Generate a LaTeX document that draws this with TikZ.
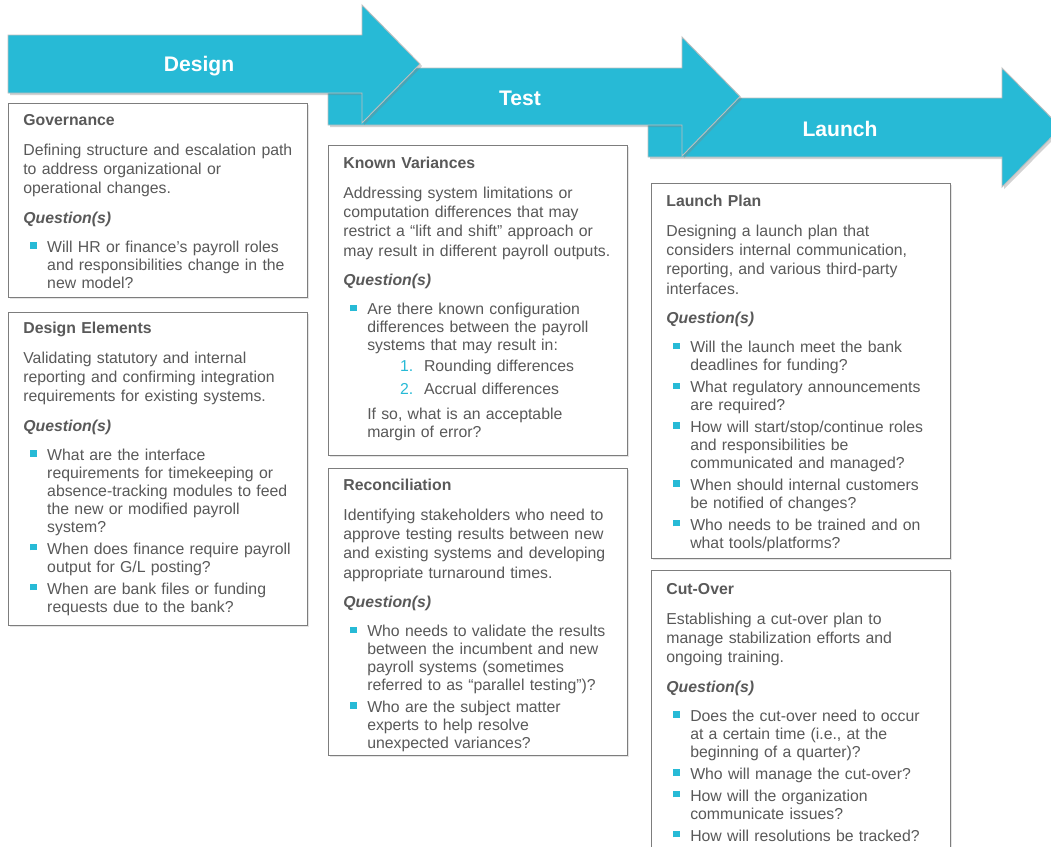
\documentclass[tikz,border=0pt]{standalone}
\usepackage{fontspec}
\setmainfont{Liberation Sans}
\usepackage{tikz}
\usetikzlibrary{shadows,positioning}

\definecolor{kcyan}{RGB}{39,186,214}
\definecolor{kgray}{RGB}{89,89,89}
\definecolor{kframe}{RGB}{125,125,125}

\tikzstyle{phase} = [fill=kcyan, draw=black!25, line width=0.5pt,
   drop shadow={opacity=0.35, shadow xshift=1.2pt, shadow yshift=-1.2pt}]
\tikzstyle{phaselabel} = [text=white, font=\fontsize{12}{14}\selectfont\bfseries]
\tikzstyle{panel} = [rectangle, draw=kframe, line width=0.8pt, fill=white,
   anchor=north west, minimum width=5.98cm, inner sep=0pt,
   drop shadow={opacity=0.2, shadow xshift=1pt, shadow yshift=-1pt}]
\tikzstyle{paneltext} = [anchor=base west, text width=6cm, inner sep=0pt,
   text=kgray, font=\fontsize{9}{11}\selectfont]

% small helpers for the panel contents
\newcommand{\qsq}{\textcolor{kcyan}{\rule[2.2pt]{3.6pt}{3.6pt}}}
\newcommand{\ptitle}[1]{{\bfseries #1}\par\vspace{6.2pt}}
\newcommand{\qhead}{\par\vspace{5.8pt}{\bfseries\itshape Question(s)}\par\vspace{4.1pt}}
\newcommand{\qi}[1]{\par\vspace{2.3pt}{\let\\\newline\baselineskip=10.2pt
   \hangindent=13.6pt\hangafter=1
   \noindent\makebox[13.6pt][l]{\hspace{4pt}\qsq}#1\par}}
\newcommand{\qnum}[2]{\noindent\hspace{32.3pt}\makebox[13.6pt][l]{\textcolor{kcyan}{#1}}#2\par}

\begin{document}
\begin{tikzpicture}[x=0.02cm, y=-0.02cm]

\fill[white] (0,0) rectangle (1051,846);
\useasboundingbox (0,0) rectangle (1051,846);

% phase arrows, back to front
\draw[phase] (648,98) -- (1002,98) -- (1002,68) -- (1061,127.5) -- (1002,187) -- (1002,157) -- (648,157) -- cycle;
\node (launch) [phaselabel] at (840,129) {Launch};

\draw[phase] (328,68) -- (682,68) -- (682,37) -- (740,96.5) -- (682,156) -- (682,125) -- (328,125) -- cycle;
\node (test) [phaselabel] at (520,98) {Test};

\draw[phase] (8,35) -- (362,35) -- (362,5) -- (420,64) -- (362,123) -- (362,93) -- (8,93) -- cycle;
\node (design) [phaselabel] at (199,66) {Design};

% Design column
\node (gov) [panel, minimum height=3.88cm] at (8,103) {};
\node (govtext) [paneltext] at (23,125) {\ptitle{Governance}
Defining structure and escalation path\\ to address organizational or\\ operational changes.
\qhead
\qi{Will HR or finance’s payroll roles\\ and responsibilities change in the\\ new model?}};

\node (delem) [panel, minimum height=6.26cm] at (8,312) {};
\node (delemtext) [paneltext] at (23,333) {\ptitle{Design Elements}
Validating statutory and internal\\ reporting and confirming integration\\ requirements for existing systems.
\qhead
\qi{What are the interface\\ requirements for timekeeping or\\ absence-tracking modules to feed\\ the new or modified payroll\\ system?}
\qi{When does finance require payroll\\ output for G/L posting?}
\qi{When are bank files or funding\\ requests due to the bank?}};

% Test column
\node (known) [panel, minimum height=6.2cm] at (328,145) {};
\node (knowntext) [paneltext] at (343,168) {\ptitle{Known Variances}
Addressing system limitations or\\ computation differences that may\\ restrict a “lift and shift” approach or\\ may result in different payroll outputs.
\qhead
\qi{Are there known configuration\\ differences between the payroll\\ systems that may result in:}
\vspace{0.9pt}\qnum{1.}{Rounding differences}
\vspace{2pt}\qnum{2.}{Accrual differences}
\vspace{4pt}{\let\\\newline\baselineskip=10.2pt\leftskip=13.6pt\noindent If so, what is an acceptable\\ margin of error?\par}};

\node (recon) [panel, minimum height=5.74cm] at (328,468) {};
\node (recontext) [paneltext] at (343,490) {\ptitle{Reconciliation}
Identifying stakeholders who need to\\ approve testing results between new\\ and existing systems and developing\\ appropriate turnaround times.
\qhead
\qi{Who needs to validate the results\\ between the incumbent and new\\ payroll systems (sometimes\\ referred to as “parallel testing”)?}
\qi{Who are the subject matter\\ experts to help resolve\\ unexpected variances?}};

% Launch column
\node (lplan) [panel, minimum height=7.5cm] at (651,183) {};
\node (lplantext) [paneltext] at (666,206) {\ptitle{Launch Plan}
Designing a launch plan that\\ considers internal communication,\\ reporting, and various third-party\\ interfaces.
\qhead
\qi{Will the launch meet the bank\\ deadlines for funding?}
\qi{What regulatory announcements\\ are required?}
\qi{How will start/stop/continue roles\\ and responsibilities be\\ communicated and managed?}
\qi{When should internal customers\\ be notified of changes?}
\qi{Who needs to be trained and on\\ what tools/platforms?}};

\node (cutover) [panel, minimum height=6cm] at (651,570) {};
\node (cutovertext) [paneltext] at (666,594) {\ptitle{Cut-Over}
Establishing a cut-over plan to\\ manage stabilization efforts and\\ ongoing training.
\qhead
\qi{Does the cut-over need to occur\\ at a certain time (i.e., at the\\ beginning of a quarter)?}
\qi{Who will manage the cut-over?}
\qi{How will the organization\\ communicate issues?}
\qi{How will resolutions be tracked?}};

\end{tikzpicture}
\end{document}
